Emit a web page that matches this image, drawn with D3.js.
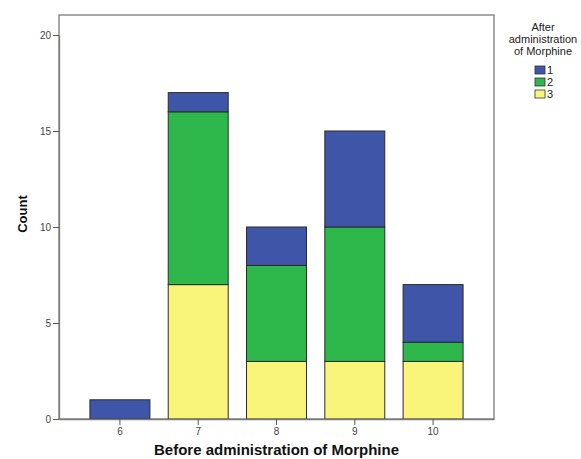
<!DOCTYPE html>
<html><head><meta charset="utf-8">
<script src="https://cdn.jsdelivr.net/npm/d3@7"></script>
<style>body{margin:0;background:#fff}svg{display:block}text{font-family:Arial,"Liberation Sans",sans-serif}</style>
</head><body>
<svg id="c" width="581" height="459"></svg>
<script>
const categories = ["6","7","8","9","10"];
const seriesKeys = ["3","2","1"];           // stacking order bottom -> top
const values1 = [1, 1, 2, 5, 3];            // After = 1 (blue)
const values2 = [0, 9, 5, 7, 1];            // After = 2 (green)
const values3 = [0, 7, 3, 3, 3];            // After = 3 (yellow)
const yTicks = [0, 5, 10, 15, 20];
const legendKeys = ["1","2","3"];
const colors = {"1":"#3f55a8","2":"#2eb74a","3":"#f9f47a"};

const data = categories.map((c,i)=>({cat:c,"1":values1[i],"2":values2[i],"3":values3[i]}));
const svg = d3.select("#c");
const L=59, R=494, T=15, B=419;

const x = d3.scaleBand().domain(categories).range([L,R]).paddingInner(0.234).paddingOuter(0.395);
const y = d3.scaleLinear().domain([0,20]).range([B,35]);

// frame
svg.append("rect").attr("x",L).attr("y",T).attr("width",R-L).attr("height",B-T)
  .attr("fill","none").attr("stroke","#7a7a7a").attr("stroke-width",1.3);

const stack = d3.stack().keys(seriesKeys)(data);
svg.append("g").selectAll("g").data(stack).join("g")
  .attr("fill",d=>colors[d.key])
  .selectAll("rect").data(d=>d.filter(s=>s[1]>s[0])).join("rect")
  .attr("x",d=>x(d.data.cat)).attr("width",x.bandwidth())
  .attr("y",d=>y(d[1])).attr("height",d=>y(d[0])-y(d[1]))
  .attr("stroke","#2b2b2b").attr("stroke-width",1);

const yAxis = svg.append("g").attr("transform",`translate(${L},0)`)
  .call(d3.axisLeft(y).tickValues(yTicks).tickSize(6).tickSizeOuter(0).tickPadding(2));
const xAxis = svg.append("g").attr("transform",`translate(0,${B})`)
  .call(d3.axisBottom(x).tickSize(6).tickSizeOuter(0).tickPadding(3));
[yAxis,xAxis].forEach(a=>{
  a.select(".domain").attr("stroke","#7a7a7a").attr("stroke-width",1.3);
  a.selectAll(".tick line").attr("stroke","#555");
  a.selectAll(".tick text").attr("fill","#444").style("font-size","10px");
});

svg.append("text").attr("transform","translate(27,214) rotate(-90)")
  .attr("text-anchor","middle").style("font-size","13px").style("font-weight","bold")
  .attr("fill","#111").text("Count");
svg.append("text").attr("x",(L+R)/2).attr("y",455).attr("text-anchor","middle")
  .style("font-size","15px").style("font-weight","bold").attr("fill","#111")
  .text("Before administration of Morphine");

// legend
const lg = svg.append("g");
["After","administration","of Morphine"].forEach((t,i)=>{
  lg.append("text").attr("x",543).attr("y",31+i*12).attr("text-anchor","middle")
    .style("font-size","11px").attr("fill","#222").text(t);
});
lg.selectAll("g.item").data(legendKeys).join("g").attr("class","item")
  .attr("transform",(d,i)=>`translate(535,${66+i*12})`)
  .each(function(d){
    const g=d3.select(this);
    g.append("rect").attr("width",10).attr("height",8).attr("fill",colors[d]).attr("stroke","#333").attr("stroke-width",0.8);
    g.append("text").attr("x",12).attr("y",8).style("font-size","11px").attr("fill","#222").text(d);
  });
</script>
</body></html>
